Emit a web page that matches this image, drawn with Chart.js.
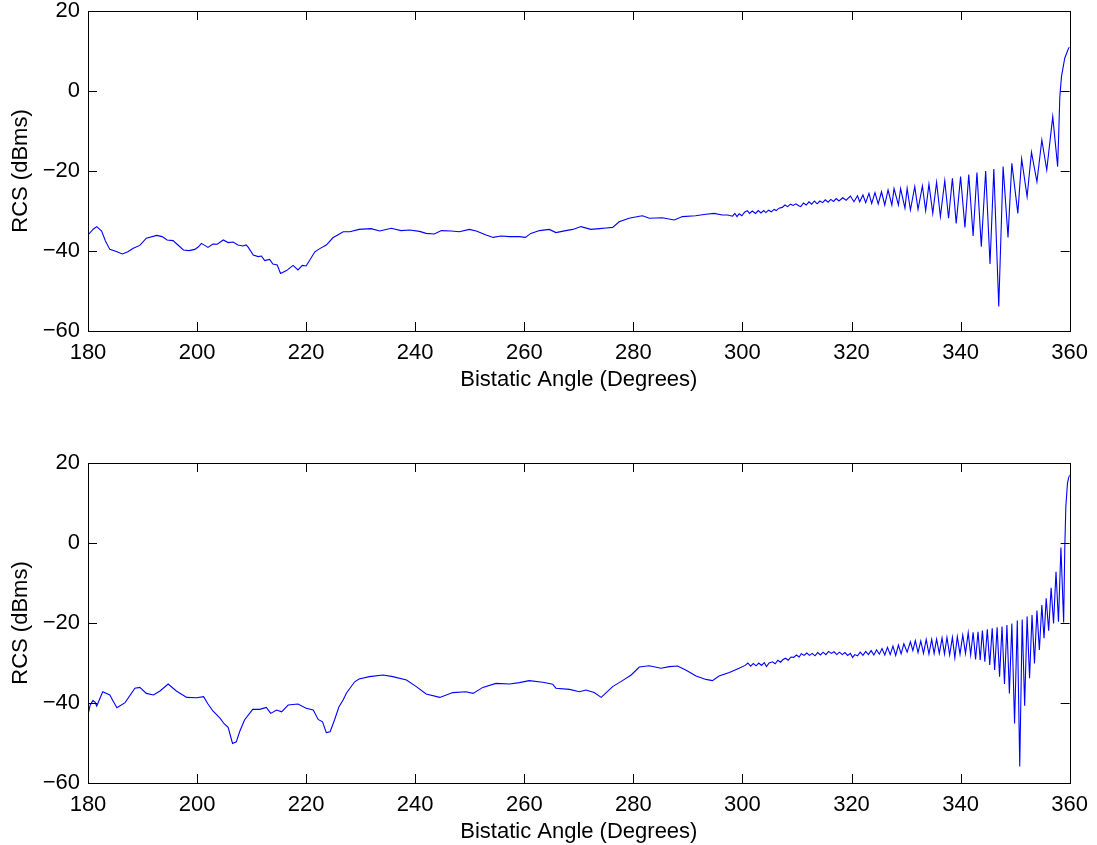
<!DOCTYPE html>
<html>
<head>
<meta charset="utf-8">
<script src="https://cdn.jsdelivr.net/npm/chart.js@4"></script>
<style>
  html, body { margin: 0; padding: 0; background: #fff; overflow: hidden; }
  .wrap { position: absolute; left: 0; width: 1097px; height: 400px; }
</style>
</head>
<body>
<div class="wrap" style="top:0"><canvas id="topChart" width="1097" height="400"></canvas></div>
<div class="wrap" style="top:452px"><canvas id="bottomChart" width="1097" height="400"></canvas></div>
<script>
// tick labels
const angleTicks = [180, 200, 220, 240, 260, 280, 300, 320, 340, 360];
const rcsTicks = [-60, -40, -20, 0, 20];

// upper plot: bistatic angle (deg) and RCS (dBms)
const topAngles = [
  180, 181.0, 181.6, 182.5, 183.2, 184.0, 185.2, 186.3, 187.3, 188.3, 189.5, 190.7, 192.6, 193.6, 194.5,
  195.6, 196.5, 197.5, 198.5, 199.6, 200.2, 200.8, 201.4, 202.0, 202.9, 203.7, 204.8, 205.7, 206.6, 207.5,
  208.4, 209.0, 209.4, 210.3, 211.2, 211.8, 212.4, 213.3, 213.9, 214.7, 215.3, 216.4, 217.6, 218.5, 219.3,
  220.0, 221.6, 222.5, 223.7, 224.9, 226.8, 228.0, 229.7, 231.9, 233.5, 235.6, 237.4, 239.0, 240.8, 242.0,
  243.5, 244.8, 246.6, 248.1, 249.9, 251.2, 253.0, 254.3, 255.7, 257.3, 259.1, 260.2, 261.2, 262.8, 264.6,
  265.8, 267.6, 268.9, 270.4, 272.2, 273.8, 275.0, 276.2, 277.4, 279.2, 281.1, 281.7, 282.9, 285.3, 287.5,
  289.0, 291.4, 293.3, 294.8, 296.3, 297.3, 298.2, 298.6, 299.0, 299.4, 299.9, 300.4, 300.9, 301.3, 301.8,
  302.4, 302.9, 303.4, 303.9, 304.3, 304.8, 305.3, 305.8, 306.2, 306.7, 307.3, 307.8, 308.3, 308.8, 309.3,
  309.8, 310.3, 310.7, 311.2, 311.7, 312.2, 312.7, 313.2, 313.7, 314.2, 314.7, 315.2, 315.7, 316.2, 316.7,
  317.2, 317.7, 318.4, 319.0, 319.8, 320.45, 321.1, 321.5, 322.1, 322.6, 323.2, 323.7, 324.3, 324.9, 325.5,
  326.1, 326.7, 327.4, 327.8, 328.6, 329.0, 329.8, 330.2, 330.8, 331.6, 332.2, 333.0, 333.6, 334.2, 334.9,
  335.6, 336.3, 337.1, 337.8, 338.5, 339.2, 340.0, 340.8, 341.5, 342.3, 343.0, 343.8, 344.6, 345.4, 346.1,
  347.0, 347.8, 348.7, 349.4, 350.5, 351.2, 352.2, 353.0, 354.0, 354.9, 355.8, 356.9, 357.8, 358.0, 358.2,
  358.5, 359.1, 359.8, 360
];
const topRcs = [
  -36.0, -34.5, -33.9, -35.0, -37.5, -39.6, -40.1, -40.75, -40.2, -39.3, -38.6, -36.8, -36.1, -36.4, -37.25,
  -37.4, -38.5, -39.75, -39.9, -39.6, -39.0, -38.1, -38.6, -39.1, -38.25, -38.3, -37.25, -37.9, -37.75, -38.5,
  -38.75, -38.5, -39.1, -41.0, -41.4, -41.25, -42.4, -42.1, -43.25, -43.5, -45.6, -44.9, -43.6, -44.75, -43.6,
  -43.75, -40.2, -39.4, -38.5, -36.7, -35.2, -35.2, -34.6, -34.4, -35.0, -34.3, -34.9, -34.75, -35.1, -35.6,
  -35.75, -34.9, -35.0, -35.2, -34.6, -35.0, -36.0, -36.6, -36.25, -36.4, -36.4, -36.6, -35.6, -34.9, -34.6,
  -35.4, -34.9, -34.6, -33.9, -34.6, -34.4, -34.25, -34.1, -32.7, -31.8, -31.3, -31.2, -31.8, -31.7, -32.25,
  -31.4, -31.2, -30.8, -30.6, -31.0, -31.0, -31.3, -30.6, -31.4, -30.7, -31.2, -30.3, -29.9, -30.6, -30.0,
  -30.6, -29.9, -30.5, -29.9, -30.4, -29.8, -30.2, -29.6, -29.9, -29.3, -29.1, -28.5, -28.9, -28.3, -28.6,
  -28.2, -28.7, -28.9, -28.0, -28.5, -27.7, -28.3, -27.5, -28.2, -27.5, -27.9, -27.2, -27.8, -27.1, -27.6,
  -26.9, -27.5, -26.7, -27.3, -26.25, -27.7, -26.2, -27.7, -26.0, -27.9, -25.6, -28.1, -25.4, -28.25, -25.2,
  -28.5, -24.75, -28.5, -24.4, -28.5, -24.4, -29.3, -24.3, -29.75, -23.9, -29.6, -23.75, -29.9, -23.3, -30.6,
  -22.8, -31.4, -22.4, -31.8, -21.8, -33.1, -21.4, -34.1, -20.9, -36.25, -20.4, -38.9, -20.0, -43.25, -19.5,
  -53.9, -18.9, -36.6, -18.1, -30.6, -17.0, -26.4, -15.3, -22.7, -12.25, -19.75, -6.4, -18.9, -10.5, -1.4,
  3.6, 8.2, 10.7, 11.0
];

// lower plot
const bottomAngles = [
  180, 180.4, 180.9, 181.3, 181.6, 182.7, 184.0, 184.6, 185.3, 186.8, 188.6, 189.5, 190.7, 192.0, 193.2,
  194.7, 196.2, 198.1, 199.9, 201.2, 202.0, 202.9, 204.2, 205.0, 205.7, 206.5, 207.2, 207.8, 208.7, 210.2,
  211.5, 212.7, 213.5, 214.6, 215.5, 216.7, 218.5, 220.0, 221.3, 222.2, 223.0, 223.7, 224.4, 225.2, 226.0,
  226.8, 227.4, 228.9, 229.7, 231.6, 234.1, 235.9, 238.4, 240.2, 242.0, 244.5, 246.9, 249.3, 250.6, 252.4,
  254.8, 257.3, 259.1, 260.9, 263.4, 265.2, 265.8, 268.3, 270.1, 271.3, 272.8, 274.1, 276.2, 278.0, 279.6,
  281.1, 282.9, 285.05, 286.6, 288.1, 289.6, 291.5, 293.3, 294.5, 295.7, 297.6, 299.4, 300.5, 301.0, 301.5,
  302.0, 302.5, 303.0, 303.5, 304.0, 304.4, 304.9, 305.5, 306.0, 306.5, 307.0, 307.4, 307.9, 308.4, 308.9,
  309.4, 309.9, 310.4, 310.8, 311.3, 311.8, 312.3, 312.8, 313.3, 313.8, 314.3, 314.8, 315.3, 315.8, 316.3,
  316.8, 317.3, 317.8, 318.3, 318.8, 319.3, 319.8, 320.2, 320.6, 321.1, 321.6, 322.1, 322.6, 323.1, 323.6,
  324.1, 324.6, 325.1, 325.6, 326.1, 326.6, 327.1, 327.6, 328.1, 328.6, 329.1, 329.6, 330.2, 330.8, 331.25,
  331.7, 332.2, 332.7, 333.2, 333.7, 334.2, 334.7, 335.15, 335.6, 336.1, 336.6, 337.05, 337.5, 338.0, 338.5,
  338.95, 339.4, 339.9, 340.4, 340.9, 341.4, 341.85, 342.3, 342.75, 343.2, 343.6, 344.0, 344.45, 344.9, 345.35,
  345.8, 346.25, 346.7, 347.15, 347.6, 348.05, 348.5, 348.95, 349.4, 349.9, 350.4, 350.85, 351.3, 351.75, 352.2,
  352.65, 353.1, 353.55, 354.0, 354.45, 354.9, 355.3, 355.7, 356.15, 356.6, 357.05, 357.5, 357.95, 358.4, 358.9,
  359.1, 359.3, 359.6, 359.8, 360
];
const bottomRcs = [
  -43.0, -40.5, -39.4, -39.8, -40.75, -37.2, -38.0, -39.5, -41.2, -39.9, -36.3, -36.1, -37.6, -38.0, -37.0,
  -35.25, -37.0, -38.6, -38.7, -38.4, -40.25, -42.0, -43.8, -45.25, -46.1, -50.1, -49.7, -47.2, -44.25, -41.6,
  -41.6, -41.1, -42.6, -41.75, -42.2, -40.5, -40.25, -41.3, -41.75, -44.1, -44.7, -47.4, -47.2, -44.25, -41.0,
  -39.2, -37.5, -34.7, -34.0, -33.4, -33.0, -33.4, -34.25, -35.9, -37.75, -38.6, -37.4, -37.2, -37.6, -36.1,
  -35.1, -35.25, -34.9, -34.4, -34.8, -35.3, -36.3, -36.6, -37.2, -36.75, -37.4, -38.6, -35.9, -34.4, -33.0,
  -31.0, -30.7, -31.3, -30.9, -30.75, -31.75, -33.25, -34.1, -34.4, -33.25, -32.4, -31.3, -30.6, -30.0, -30.8,
  -30.1, -30.7, -30.0, -30.6, -29.9, -30.9, -30.0, -29.7, -30.2, -29.3, -29.8, -29.2, -28.8, -29.3, -28.5,
  -28.6, -28.0, -28.5, -27.7, -28.1, -27.5, -28.1, -27.6, -28.2, -27.4, -28.0, -27.3, -27.9, -27.1, -27.6,
  -27.2, -27.9, -27.3, -27.9, -27.4, -28.1, -27.6, -28.6, -27.9, -28.2, -27.3, -28.1, -27.1, -27.9, -26.9,
  -28.0, -26.7, -27.8, -26.4, -28.0, -26.1, -27.9, -25.8, -28.1, -25.5, -27.7, -25.2, -27.3, -24.7, -26.9,
  -24.4, -27.4, -24.5, -27.6, -24.1, -27.75, -24.1, -27.6, -24.0, -27.6, -23.7, -27.75, -23.6, -28.0, -23.6,
  -28.7, -23.4, -27.8, -23.0, -27.6, -22.4, -28.0, -22.3, -29.1, -22.2, -29.25, -21.9, -29.7, -21.6, -30.5,
  -21.3, -31.75, -21.1, -33.4, -20.9, -35.25, -20.5, -37.6, -20.1, -45.1, -19.4, -55.9, -19.1, -40.7, -18.4,
  -33.8, -18.0, -30.1, -16.9, -26.75, -15.5, -23.8, -13.8, -21.9, -11.2, -20.1, -7.2, -19.7, -1.1, -19.9,
  -1.75, 9.1, 14.9, 16.2, 17.0
];

Chart.defaults.font.family = '"Liberation Sans", Arial, sans-serif';
Chart.defaults.font.size = 22;
Chart.defaults.color = '#000';

// matlab style box with inward ticks on all four sides
const boxPlugin = {
  id: 'box',
  afterDraw(chart) {
    const { ctx, chartArea: a, scales } = chart;
    const len = 9;
    ctx.save();
    ctx.strokeStyle = '#000';
    ctx.lineWidth = 1;
    ctx.beginPath();
    scales.x.ticks.forEach(t => {
      const px = Math.round(scales.x.getPixelForValue(t.value)) + 0.5;
      ctx.moveTo(px, a.bottom); ctx.lineTo(px, a.bottom - len);
      ctx.moveTo(px, a.top); ctx.lineTo(px, a.top + len);
    });
    scales.y.ticks.forEach(t => {
      const py = Math.round(scales.y.getPixelForValue(t.value)) + 0.5;
      ctx.moveTo(a.left, py); ctx.lineTo(a.left + len, py);
      ctx.moveTo(a.right, py); ctx.lineTo(a.right - len, py);
    });
    ctx.stroke();
    ctx.strokeRect(Math.round(a.left) + 0.5, Math.round(a.top) + 0.5,
      Math.round(a.right - a.left), Math.round(a.bottom - a.top));
    ctx.restore();
  }
};

function makeChart(id, angles, rcs) {
  return new Chart(document.getElementById(id), {
    type: 'line',
    data: {
      datasets: [{
        data: angles.map((a, i) => ({ x: a, y: rcs[i] })),
        borderColor: '#0000ff',
        borderWidth: 1.1,
        pointRadius: 0,
        fill: false,
        tension: 0
      }]
    },
    options: {
      responsive: false,
      animation: false,
      layout: { padding: { left: 0, top: 11, right: 25, bottom: 0 } },
      plugins: { legend: { display: false }, tooltip: { enabled: false } },
      scales: {
        x: {
          type: 'linear',
          min: 180,
          max: 360,
          afterBuildTicks: s => { s.ticks = angleTicks.map(v => ({ value: v })); },
          afterFit: s => { s.height = 69; },
          grid: { display: false, drawTicks: false },
          border: { display: false },
          ticks: { padding: 9, autoSkip: false, maxRotation: 0 },
          title: { display: true, text: 'Bistatic Angle (Degrees)', padding: { top: 0, bottom: 7 } }
        },
        y: {
          min: -60,
          max: 20,
          afterBuildTicks: s => { s.ticks = rcsTicks.map(v => ({ value: v })); },
          afterFit: s => { s.width = 88; s.paddingTop = 0; s.paddingBottom = 0; },
          grid: { display: false, drawTicks: false },
          border: { display: false },
          ticks: { padding: 8, callback: v => String(v).replace('-', '\u2212') },
          title: { display: true, text: 'RCS (dBms)', padding: { top: 8, bottom: 0 } }
        }
      }
    },
    plugins: [boxPlugin]
  });
}

makeChart('topChart', topAngles, topRcs);
makeChart('bottomChart', bottomAngles, bottomRcs);
</script>
</body>
</html>
